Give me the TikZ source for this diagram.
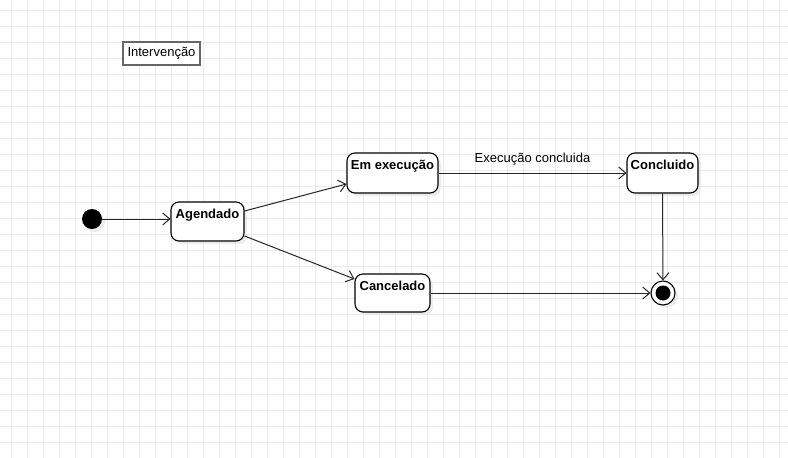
\documentclass[tikz,border=0pt]{standalone}
\usepackage{fontspec}
\setmainfont{Liberation Sans}
\usetikzlibrary{arrows.meta,shadows}
\begin{document}
\begin{tikzpicture}[x=1pt,y=-1pt,
  gridline/.style={draw=black!8, line width=0.6pt},
  shad/.style={drop shadow={shadow xshift=3pt, shadow yshift=-3pt, fill=black!10, opacity=0.7}},
  statebox/.style={draw=black, line width=1.1pt, rounded corners=8pt, fill=white, shad, inner sep=0pt},
  stlabel/.style={font=\fontsize{13}{15}\selectfont\bfseries, anchor=north, yshift=-5pt, inner sep=2pt},
  conn/.style={draw=black!85, line width=1pt, -{Straight Barb[length=7pt,width=12pt,line width=1pt]}},
  elabel/.style={font=\fontsize{13}{15}\selectfont, inner sep=1pt}
]
\useasboundingbox (0,0) rectangle (788,458);
\fill[white] (0,0) rectangle (788,458);
\foreach \i in {0,...,48} {\draw[gridline] (11+16*\i,0) -- (11+16*\i,458);}
\foreach \j in {0,...,28} {\draw[gridline] (0,10+16*\j) -- (788,10+16*\j);}

\node[draw=black!60, line width=1.5pt, fill=white, minimum width=77pt, minimum height=23pt, inner sep=0pt, font=\fontsize{13}{15}\selectfont] (title) at (161.5,53.5) {Intervenção};

\node[circle, fill=black, minimum size=20pt, inner sep=0pt, shad] (init) at (92,219) {};

\node[statebox, minimum width=73pt, minimum height=39pt, label={[stlabel]north:Agendado}] (ag) at (207.5,221.5) {};
\node[statebox, minimum width=91pt, minimum height=40pt, label={[stlabel]north:Em execução}] (em) at (392.5,173) {};
\node[statebox, minimum width=71pt, minimum height=40pt, label={[stlabel]north:Concluido}] (con) at (662.5,173) {};
\node[statebox, minimum width=75pt, minimum height=38pt, label={[stlabel]north:Cancelado}] (can) at (392.5,293) {};

\node[circle, draw=black, line width=1.1pt, fill=white, minimum size=24pt, inner sep=0pt, shad] (fin) at (663,293) {};
\node[circle, fill=black, minimum size=15pt, inner sep=0pt] (finin) at (fin.center) {};

\draw[conn] (init.east) -- ([yshift=2.5pt]ag.west);
\draw[conn] ([yshift=10.5pt]ag.east) -- ([yshift=-11pt]em.west);
\draw[conn] ([yshift=-14.5pt]ag.east) -- ([yshift=14pt]can.west);
\draw[conn] (em.east) -- node[elabel, above=6pt] {Execução concluida} (con.west);
\draw[conn] (con.south) -- (fin.north);
\draw[conn] (can.east) -- (fin.west);
\end{tikzpicture}
\end{document}
